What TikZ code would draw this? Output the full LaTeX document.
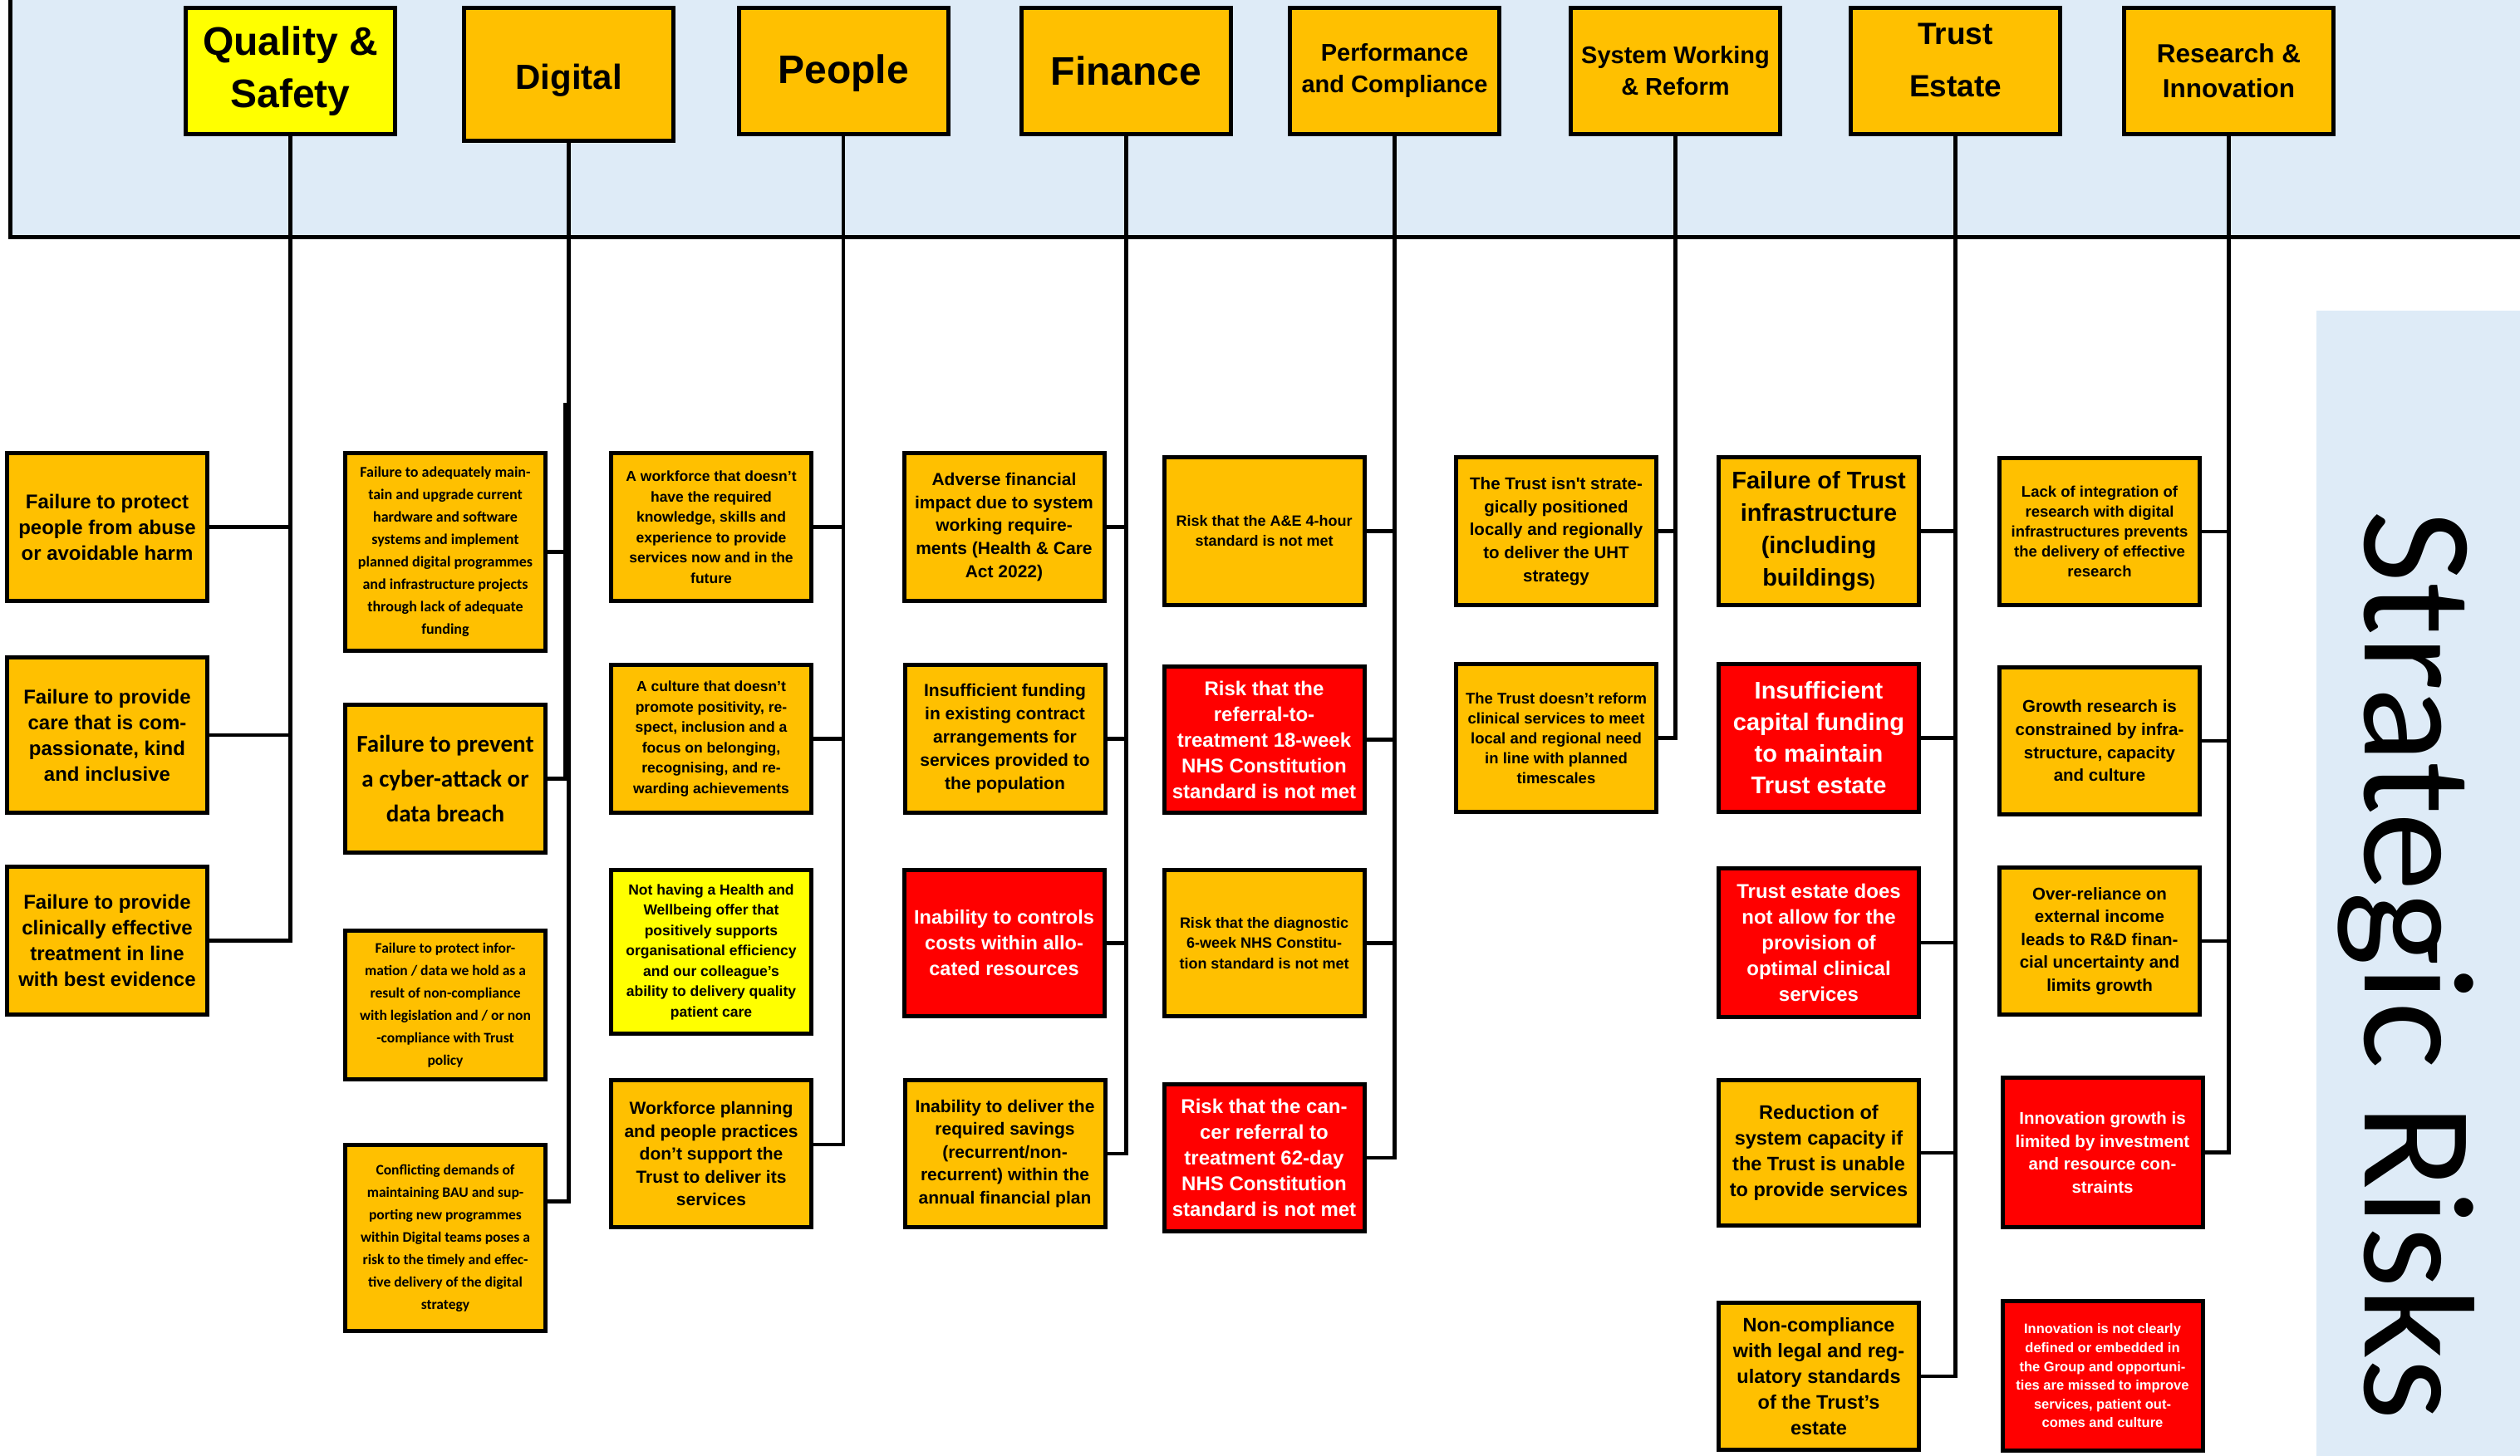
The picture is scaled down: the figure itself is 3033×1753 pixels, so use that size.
\documentclass[tikz,border=0pt]{standalone}
\usepackage{fontspec}
\setmainfont{Liberation Sans}
\newfontfamily\calfont{Carlito}
\definecolor{orng}{HTML}{FFC000}
\definecolor{ylw}{HTML}{FFFF00}
\definecolor{rd}{HTML}{FF0000}
\definecolor{band}{HTML}{DEEBF7}
\newcommand\fsz[2]{\fontsize{#1}{#2}\selectfont}
\begin{document}
\begin{tikzpicture}[x=1pt,y=-1pt,
  hdr/.style={draw, line width=5pt, fill=orng, inner sep=0pt, align=center, minimum width=252pt, minimum height=152pt},
  rk/.style={draw, line width=5pt, fill=orng, inner sep=0pt, align=center, minimum width=241pt},
  redbox/.style={fill=rd, text=white},
  ylwbox/.style={fill=ylw},
  conn/.style={line width=4.5pt, line join=miter, line cap=rect}
]
\useasboundingbox (0,0) rectangle (3033,1753);
% top band
\fill[band] (12,0) rectangle (3033,285);
\draw[line width=5pt] (12,-5) -- (12,285) -- (3040,285);
% side panel
\fill[band] (2788,374) rectangle (3033,1760);
\node[rotate=-90, anchor=base, font=\calfont\fsz{190}{200}] (title) at (2846,1162) {Strategic Risks};

% headers
\node[hdr, fill=ylw, font=\bfseries\fsz{48}{63}] (hq) at (349.5,85.5) {Quality \&\\Safety};
\node[hdr, minimum height=160pt, font=\bfseries\fsz{42}{50}] (hd) at (684.5,89.5) {\raisebox{-7pt}[\height][\depth]{Digital}};
\node[hdr, font=\bfseries\fsz{48}{60}] (hp) at (1015,85.5) {\raisebox{-3pt}[\height][\depth]{People}};
\node[hdr, font=\bfseries\fsz{48}{60}] (hf) at (1355.5,85.5) {Finance};
\node[hdr, font=\bfseries\fsz{29}{38}] (hc) at (1678.5,85.5) {Performance\\and Compliance};
\node[hdr, font=\bfseries\fsz{29}{38}] (hs) at (2016.5,85.5) {System Working\\\& Reform};
\node[hdr, font=\bfseries\fsz{37}{63}] (ht) at (2353.5,85.5) {\raisebox{13pt}[\height][\depth]{\begin{tabular}{@{}c@{}}Trust\\Estate\end{tabular}}};
\node[hdr, font=\bfseries\fsz{31.5}{42}] (hr) at (2682.5,85.5) {Research \&\\Innovation};

% Quality & Safety
\node[rk, minimum height=178pt, font=\bfseries\fsz{24}{31}] (q1) at (129,634.5) {Failure to protect\\people from abuse\\or avoidable harm};
\node[rk, minimum height=187pt, font=\bfseries\fsz{24}{31}] (q2) at (129,885) {Failure to provide\\care that is com-\\passionate, kind\\and inclusive};
\node[rk, minimum height=178pt, font=\bfseries\fsz{24}{31}] (q3) at (129,1132.5) {Failure to provide\\clinically effective\\treatment in line\\with best evidence};

% Digital
\node[rk, minimum height=238pt, font=\calfont\bfseries\fsz{18}{27}] (d1) at (536,664.5) {Failure to adequately main-\\tain and upgrade current\\hardware and software\\systems and implement\\planned digital programmes\\and infrastructure projects\\through lack of adequate\\funding};
\node[rk, minimum height=178pt, font=\calfont\bfseries\fsz{29}{42}] (d2) at (536,937.5) {Failure to prevent\\a cyber-attack or\\data breach};
\node[rk, minimum height=179pt, font=\calfont\bfseries\fsz{17.5}{27}] (d3) at (536,1210) {Failure to protect infor-\\mation / data we hold as a\\result of non-compliance\\with legislation and / or non\\-compliance with Trust\\policy};
\node[rk, minimum height=224pt, font=\calfont\bfseries\fsz{17.5}{27}] (d4) at (536,1490.5) {Conflicting demands of\\maintaining BAU and sup-\\porting new programmes\\within Digital teams poses a\\risk to the timely and effec-\\tive delivery of the digital\\strategy};

% People
\node[rk, minimum height=178pt, font=\bfseries\fsz{17.5}{24.5}] (p1) at (856,634.5) {A workforce that doesn’t\\have the required\\knowledge, skills and\\experience to provide\\services now and in the\\future};
\node[rk, minimum height=178pt, font=\bfseries\fsz{17.5}{24.5}] (p2) at (856,889.5) {A culture that doesn’t\\promote positivity, re-\\spect, inclusion and a\\focus on belonging,\\recognising, and re-\\warding achievements};
\node[rk, ylwbox, minimum height=197pt, font=\bfseries\fsz{17.5}{24.5}] (p3) at (856,1146) {Not having a Health and\\Wellbeing offer that\\positively supports\\organisational efficiency\\and our colleague’s\\ability to delivery quality\\patient care};
\node[rk, minimum height=177pt, font=\bfseries\fsz{21}{27.5}] (p4) at (856,1389) {Workforce planning\\and people practices\\don’t support the\\Trust to deliver its\\services};

% Finance
\node[rk, minimum height=178pt, font=\bfseries\fsz{21}{27.7}] (f1) at (1208.5,634.5) {Adverse financial\\impact due to system\\working require-\\ments (Health \& Care\\Act 2022)};
\node[rk, minimum height=178pt, font=\bfseries\fsz{21}{28}] (f2) at (1209.5,889.5) {Insufficient funding\\in existing contract\\arrangements for\\services provided to\\the population};
\node[rk, redbox, minimum height=176pt, font=\bfseries\fsz{23.5}{31}] (f3) at (1208.5,1135.5) {Inability to controls\\costs within allo-\\cated resources};
\node[rk, minimum height=177pt, font=\bfseries\fsz{21}{27.5}] (f4) at (1209.5,1389) {Inability to deliver the\\required savings\\(recurrent/non-\\recurrent) within the\\annual financial plan};

% Performance and Compliance
\node[rk, minimum height=178pt, font=\bfseries\fsz{18}{24}] (c1) at (1521.5,639.5) {Risk that the A\&E 4-hour\\standard is not met};
\node[rk, redbox, minimum height=176pt, font=\bfseries\fsz{24}{31}] (c2) at (1521.5,890.5) {Risk that the\\referral-to-\\treatment 18-week\\NHS Constitution\\standard is not met};
\node[rk, minimum height=176pt, font=\bfseries\fsz{18}{24.5}] (c3) at (1521.5,1135.5) {Risk that the diagnostic\\6-week NHS Constitu-\\tion standard is not met};
\node[rk, redbox, minimum height=177pt, font=\bfseries\fsz{24}{31}] (c4) at (1521.5,1394) {Risk that the can-\\cer referral to\\treatment 62-day\\NHS Constitution\\standard is not met};

% System Working & Reform
\node[rk, minimum height=178pt, font=\bfseries\fsz{20.5}{27.7}] (s1) at (1873,639.5) {The Trust isn\textquotesingle t strate-\\gically positioned\\locally and regionally\\to deliver the UHT\\strategy};
\node[rk, minimum height=178pt, font=\bfseries\fsz{18.5}{24}] (s2) at (1873,888.5) {The Trust doesn’t reform\\clinical services to meet\\local and regional need\\in line with planned\\timescales};

% Trust Estate
\node[rk, minimum height=178pt, font=\bfseries\fsz{29}{39}] (t1) at (2189,639.5) {Failure of Trust\\infrastructure\\(including\\buildings{\fsz{20}{39})}};
\node[rk, redbox, minimum height=178pt, font=\bfseries\fsz{29}{38}] (t2) at (2189,888.5) {Insufficient\\capital funding\\to maintain\\Trust estate};
\node[rk, redbox, minimum height=179pt, font=\bfseries\fsz{24}{31}] (t3) at (2189,1135) {Trust estate does\\not allow for the\\provision of\\optimal clinical\\services};
\node[rk, minimum height=175pt, font=\bfseries\fsz{23.5}{31}] (t4) at (2189,1388) {Reduction of\\system capacity if\\the Trust is unable\\to provide services};
\node[rk, minimum height=177pt, font=\bfseries\fsz{23.5}{31}] (t5) at (2189,1657) {Non-compliance\\with legal and reg-\\ulatory standards\\of the Trust’s\\estate};

% Research & Innovation
\node[rk, minimum height=177pt, font=\bfseries\fsz{18.5}{24}] (r1) at (2527,640) {Lack of integration of\\research with digital\\infrastructures prevents\\the delivery of effective\\research};
\node[rk, minimum height=177pt, font=\bfseries\fsz{20.5}{27.6}] (r2) at (2527,892) {Growth research is\\constrained by infra-\\structure, capacity\\and culture};
\node[rk, minimum height=177pt, font=\bfseries\fsz{20.5}{27.6}] (r3) at (2527,1133) {Over-reliance on\\external income\\leads to R\&D finan-\\cial uncertainty and\\limits growth};
\node[rk, redbox, minimum height=180pt, font=\bfseries\fsz{20.5}{27.5}] (r4) at (2530.5,1387.5) {Innovation growth is\\limited by investment\\and resource con-\\straints};
\node[rk, redbox, minimum height=180pt, font=\bfseries\fsz{16.5}{22.6}] (r5) at (2530.5,1656.5) {Innovation is not clearly\\defined or embedded in\\the Group and opportuni-\\ties are missed to improve\\services, patient out-\\comes and culture};

% connectors
\draw[conn] (hq.south) |- (q3.east);
\draw[conn] (q1.east) -- (q1.east -| hq.south);
\draw[conn] (q2.east) -- (q2.east -| hq.south);

\coordinate (djog) at (680,487);
\draw[conn] (hd.south) |- ([yshift=44pt]d4.east);
\draw[conn] (d1.east) -- (d1.east -| hd.south);
\draw[conn] (d2.east) -| (djog);

\draw[conn] (hp.south) |- ([yshift=11pt]p4.east);
\draw[conn] (p1.east) -- (p1.east -| hp.south);
\draw[conn] (p2.east) -- (p2.east -| hp.south);

\draw[conn] (hf.south) |- (f4.east);
\draw[conn] (f1.east) -- (f1.east -| hf.south);
\draw[conn] (f2.east) -- (f2.east -| hf.south);
\draw[conn] (f3.east) -- (f3.east -| hf.south);

\draw[conn] (hc.south) |- (c4.east);
\draw[conn] (c1.east) -- (c1.east -| hc.south);
\draw[conn] (c2.east) -- (c2.east -| hc.south);
\draw[conn] (c3.east) -- (c3.east -| hc.south);

\draw[conn] (hs.south) |- (s2.east);
\draw[conn] (s1.east) -- (s1.east -| hs.south);

\draw[conn] (ht.south) |- (t5.east);
\draw[conn] (t1.east) -- (t1.east -| ht.south);
\draw[conn] (t2.east) -- (t2.east -| ht.south);
\draw[conn] (t3.east) -- (t3.east -| ht.south);
\draw[conn] (t4.east) -- (t4.east -| ht.south);

\draw[conn] (hr.south) |- (r4.east);
\draw[conn] (r1.east) -- (r1.east -| hr.south);
\draw[conn] (r2.east) -- (r2.east -| hr.south);
\draw[conn] (r3.east) -- (r3.east -| hr.south);
\end{tikzpicture}
\end{document}
